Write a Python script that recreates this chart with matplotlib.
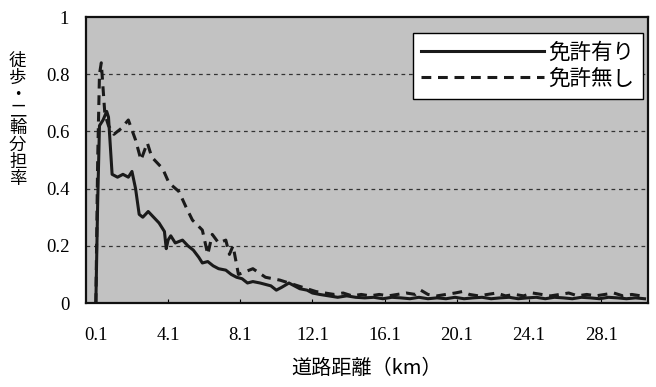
import matplotlib
matplotlib.use('Agg')
import matplotlib.pyplot as plt

plt.rcParams['font.family'] = ['Liberation Serif', 'Noto Sans CJK JP']

# 免許有り (solid)
dist_with = [0.1, 0.2, 0.3, 0.5, 0.7, 0.8, 1.0, 1.3, 1.6, 1.9, 2.1, 2.3, 2.5, 2.7,
             3.0, 3.3, 3.6, 3.9, 4.0, 4.1, 4.25, 4.5, 4.9, 5.2, 5.5, 5.8, 6.0, 6.3,
             6.6, 6.9, 7.3, 7.6, 7.9, 8.2, 8.5, 8.8, 9.2, 9.5, 9.8, 10.1, 10.4, 10.8,
             11.1, 11.4, 11.8, 12.1, 12.5, 13.0, 13.5, 14.0, 14.5, 15.0, 15.5, 16.0,
             16.5, 17.0, 17.5, 18.0, 18.5, 19.0, 19.5, 20.0, 20.5, 21.0, 21.5, 22.0,
             22.5, 23.0, 23.5, 24.0, 24.5, 25.0, 25.5, 26.0, 26.5, 27.0, 27.5, 28.0,
             28.5, 29.0, 29.5, 30.0, 30.5]
rate_with = [0.0, 0.35, 0.62, 0.64, 0.67, 0.65, 0.45, 0.44, 0.45, 0.44, 0.46, 0.40, 0.31, 0.30,
             0.32, 0.30, 0.28, 0.25, 0.19, 0.22, 0.235, 0.21, 0.22, 0.20, 0.185, 0.16, 0.14, 0.145,
             0.13, 0.12, 0.115, 0.10, 0.09, 0.085, 0.07, 0.075, 0.07, 0.065, 0.06, 0.045, 0.055, 0.07,
             0.06, 0.05, 0.045, 0.035, 0.03, 0.025, 0.02, 0.025, 0.02, 0.018, 0.02, 0.015,
             0.02, 0.018, 0.015, 0.02, 0.015, 0.018, 0.015, 0.02, 0.015, 0.018, 0.02, 0.015,
             0.018, 0.02, 0.015, 0.018, 0.02, 0.015, 0.02, 0.018, 0.015, 0.02, 0.018, 0.015,
             0.02, 0.018, 0.015, 0.018, 0.015]

# 免許無し (dashed)
dist_without = [0.1, 0.2, 0.3, 0.4, 0.6, 0.8, 1.1, 1.5, 1.9, 2.3, 2.6, 2.95, 3.2, 3.8,
                4.15, 4.7, 5.1, 5.45, 6.0, 6.3, 6.55, 6.9, 7.3, 7.5, 7.7, 8.0, 8.4, 8.8,
                9.5, 10.3, 10.8, 11.3, 11.8, 12.3, 12.8, 13.3, 13.8, 14.3, 14.8, 15.3,
                15.8, 16.3, 16.8, 17.3, 17.8, 18.1, 18.5, 19.0, 19.5, 20.0, 20.4, 20.8,
                21.3, 21.8, 22.3, 22.8, 23.3, 23.8, 24.3, 24.8, 25.3, 25.8, 26.3, 26.8,
                27.3, 27.8, 28.3, 28.8, 29.3, 29.8, 30.3]
rate_without = [0.0, 0.5, 0.8, 0.84, 0.66, 0.62, 0.59, 0.61, 0.64, 0.57, 0.50, 0.56, 0.51, 0.47,
                0.42, 0.39, 0.335, 0.29, 0.255, 0.17, 0.24, 0.21, 0.22, 0.17, 0.20, 0.10, 0.11, 0.12,
                0.09, 0.08, 0.07, 0.06, 0.05, 0.04, 0.035, 0.03, 0.035, 0.025, 0.03, 0.025,
                0.03, 0.025, 0.03, 0.035, 0.03, 0.045, 0.03, 0.025, 0.03, 0.035, 0.04, 0.03,
                0.025, 0.03, 0.035, 0.025, 0.03, 0.025, 0.035, 0.03, 0.025, 0.03, 0.035, 0.025,
                0.03, 0.025, 0.03, 0.035, 0.025, 0.03, 0.025]

x_ticks = [0.1, 4.1, 8.1, 12.1, 16.1, 20.1, 24.1, 28.1]
y_ticks = [0, 0.2, 0.4, 0.6, 0.8, 1]
y_tick_labels = ['0', '0.2', '0.4', '0.6', '0.8', '1']

fig = plt.figure(figsize=(6.56, 3.87), dpi=100)
ax = fig.add_axes([0.131, 0.217, 0.857, 0.739])
ax.set_facecolor('#c2c2c2')

ax.plot(dist_with, rate_with, color='#1a1a1a', lw=2.2, label='免許有り')
ax.plot(dist_without, rate_without, color='#1a1a1a', lw=2.2, ls=(0, (3.2, 2.2)), label='免許無し')

# 破線の目盛線
for v in [0.2, 0.4, 0.6, 0.8]:
    ax.axhline(v, color='#333333', lw=0.9, ls=(0, (3, 3)), zorder=1)

ax.set_xlim(-0.45, 30.7)
ax.set_ylim(0, 1)
ax.set_xticks(x_ticks)
ax.set_xticklabels([str(t) for t in x_ticks])
ax.set_yticks(y_ticks)
ax.set_yticklabels(y_tick_labels)
ax.tick_params(axis='x', direction='in', length=3, pad=17, labelsize=13.5)
ax.tick_params(axis='y', length=0, pad=12, labelsize=13.5)
for s in ax.spines.values():
    s.set_linewidth(1.6)
    s.set_color('#111111')

leg = ax.legend(loc='upper right', bbox_to_anchor=(0.991, 0.944), borderaxespad=0,
                fancybox=False, framealpha=1, edgecolor='black', handlelength=5.7,
                handletextpad=0.2, prop={'family': 'Noto Sans CJK JP', 'size': 15.5},
                labelspacing=0.2, borderpad=0.4)
leg.get_frame().set_linewidth(1.0)

ax.set_xlabel('道路距離（km）', family='Noto Sans CJK JP', fontsize=14.5, labelpad=10)
fig.text(0.027, 0.69, '\n'.join('徒歩・二輪分担率'), family='Noto Sans CJK JP',
         fontsize=12.5, ha='center', va='center', linespacing=0.92)

fig.savefig('out.png', dpi=100)
